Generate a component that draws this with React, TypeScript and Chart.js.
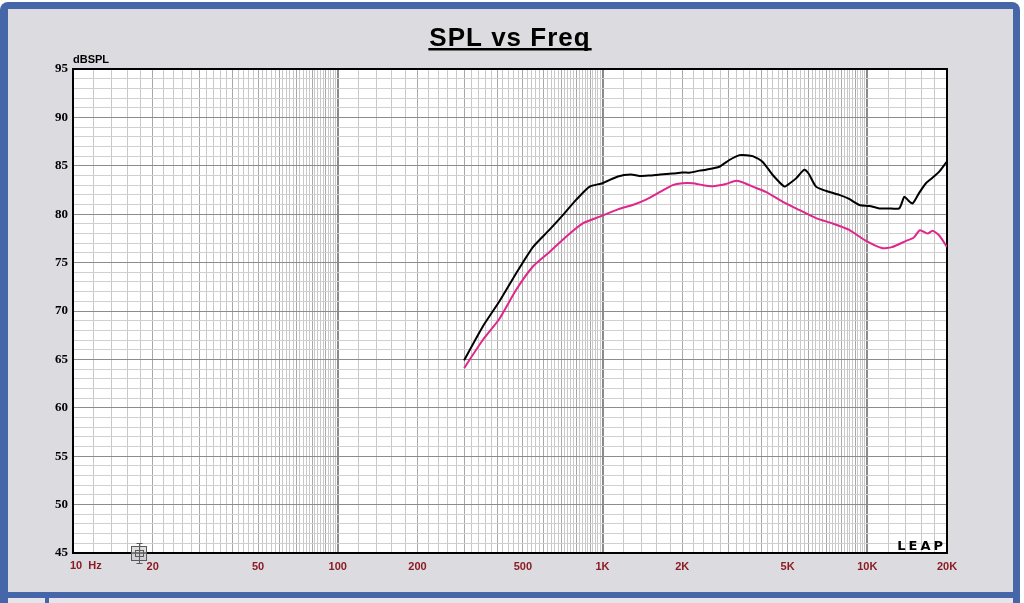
import React, { useEffect, useRef } from 'react';
import { Chart, registerables } from 'chart.js';

Chart.register(...registerables);

// black trace (upper)
const freqUpper = [300, 353, 408, 472, 546, 631, 708, 796, 894, 1000, 1143, 1280, 1380, 1500, 1650, 1841, 2000, 2150, 2323, 2460, 2763, 3013, 3289, 3500, 3690, 4027, 4394, 4865, 5100, 5383, 5785, 6000, 6400, 7000, 7838, 8500, 9330, 10180, 11100, 12000, 13200, 13800, 14300, 14830, 15700, 16650, 17500, 18700, 19800, 20000];
const splUpper = [64.9, 68.4, 71.0, 73.9, 76.6, 78.4, 79.9, 81.5, 82.85, 83.2, 83.9, 84.1, 83.95, 84.0, 84.1, 84.2, 84.3, 84.3, 84.5, 84.6, 84.9, 85.6, 86.1, 86.1, 86.0, 85.4, 84.05, 82.85, 83.2, 83.7, 84.6, 84.2, 82.85, 82.4, 82.0, 81.6, 80.95, 80.85, 80.6, 80.6, 80.6, 81.8, 81.4, 81.1, 82.2, 83.2, 83.7, 84.4, 85.3, 85.4];

// pink trace (lower)
const freqLower = [300, 353, 408, 472, 546, 631, 730, 842, 977, 1143, 1300, 1460, 1650, 1841, 2000, 2193, 2400, 2604, 2900, 3200, 3450, 3690, 4140, 4780, 5520, 6400, 7380, 8510, 9820, 11350, 12380, 13900, 15000, 15790, 16900, 17650, 18700, 19800, 20000];
const splLower = [64.1, 67.0, 69.2, 72.2, 74.6, 76.1, 77.7, 79.05, 79.75, 80.5, 80.95, 81.5, 82.3, 83.0, 83.2, 83.2, 83.0, 82.9, 83.1, 83.45, 83.2, 82.85, 82.3, 81.3, 80.45, 79.6, 79.05, 78.4, 77.3, 76.5, 76.6, 77.2, 77.6, 78.35, 78.0, 78.3, 77.8, 76.8, 76.6];

const xTickValues = [10, 20, 50, 100, 200, 500, 1000, 2000, 5000, 10000, 20000];
const xTickLabels = ['10  Hz', '20', '50', '100', '200', '500', '1K', '2K', '5K', '10K', '20K'];
const yTickValues = [45, 50, 55, 60, 65, 70, 75, 80, 85, 90, 95];

const titleText = 'SPL vs Freq';
const yUnitText = 'dBSPL';
const logoText = 'LEAP';

const BLUE = '#4566a8';
const PANEL = '#dcdbe0';
const SANS = 'Arial, "Liberation Sans", sans-serif';
const SERIF = '"Times New Roman", "Liberation Serif", serif';

// fine log grid: every 2 units per decade, like the LEAP sheet
const freqGrid = () => {
    const out: number[] = [];
    [10, 100, 1000].forEach(dec => {
        for (let m = 10; m < 100; m += 2) out.push((m * dec) / 10);
    });
    for (let v = 10000; v <= 20000; v += 2000) out.push(v);
    return out;
};

const mantissa = (v: number) => {
    const e = Math.pow(10, Math.floor(Math.log10(v) + 1e-9));
    return Math.round((v / e) * 10) / 10;
};

const framePlugin = {
    id: 'leapFrame',
    beforeDraw(chart: any) {
        const c = chart.ctx;
        const { width, height } = chart;
        const a = chart.chartArea;
        c.save();
        c.fillStyle = '#ffffff';
        c.fillRect(0, 0, width, height);
        c.fillStyle = BLUE;
        c.beginPath();
        c.roundRect(0, 2, 1020, height, [8, 8, 0, 0]);
        c.fill();
        c.fillStyle = PANEL;
        c.fillRect(8, 9, 1005, 583);
        c.fillStyle = '#e4e4ea';
        c.fillRect(8, 598, 1005, height - 598);
        c.fillStyle = BLUE;
        c.fillRect(45, 598, 4, height - 598);
        c.fillStyle = '#ffffff';
        c.fillRect(a.left, a.top, a.right - a.left, a.bottom - a.top);
        c.restore();
    },
    beforeDatasetsDraw(chart: any) {
        const c = chart.ctx;
        const a = chart.chartArea;
        c.save();
        c.strokeStyle = '#000000';
        c.lineWidth = 2;
        c.strokeRect(a.left, a.top, a.right - a.left, a.bottom - a.top);
        c.restore();
    },
    afterDraw(chart: any) {
        const c = chart.ctx;
        const a = chart.chartArea;
        const xs = chart.scales.x;
        const ys = chart.scales.y;
        c.save();

        // title, underlined
        c.font = `bold 26px ${SANS}`;
        (c as any).letterSpacing = '1px';
        c.fillStyle = '#000000';
        c.textAlign = 'center';
        c.textBaseline = 'alphabetic';
        const cx = (a.left + a.right) / 2;
        c.fillText(titleText, cx, 46);
        const w = c.measureText(titleText).width;
        c.fillRect(cx - w / 2 - 1, 48, w + 2, 2.5);
        (c as any).letterSpacing = '0px';

        // unit above the y axis
        c.font = `bold 11px ${SANS}`;
        c.textAlign = 'left';
        c.fillText(yUnitText, a.left, a.top - 6);

        // first x label sits to the right of its tick
        c.font = `bold 11px ${SANS}`;
        c.fillStyle = '#8b1c24';
        c.textBaseline = 'top';
        c.fillText(xTickLabels[0], xs.getPixelForValue(xTickValues[0]) - 3, a.bottom + 7);

        // LEAP mark
        c.font = `bold 13px "DejaVu Sans", ${SANS}`;
        (c as any).letterSpacing = '3px';
        c.fillStyle = '#000000';
        c.textAlign = 'right';
        c.textBaseline = 'alphabetic';
        c.fillText(logoText, a.right - 1, a.bottom - 3);
        (c as any).letterSpacing = '0px';

        // cursor marker on the bottom edge
        const mx = Math.round(xs.getPixelForValue(17.8)) + 0.5;
        const my = Math.round(ys.getPixelForValue(45)) + 0.5;
        c.strokeStyle = '#5a5a5a';
        c.lineWidth = 1;
        c.fillStyle = 'rgba(200,200,200,0.6)';
        c.fillRect(mx - 8, my - 7, 15, 14);
        c.strokeRect(mx - 8, my - 7, 15, 14);
        c.strokeRect(mx - 4, my - 3, 8, 6);
        c.beginPath();
        c.moveTo(mx, my - 10);
        c.lineTo(mx, my + 10);
        c.moveTo(mx - 3, my - 10);
        c.lineTo(mx + 3, my - 10);
        c.moveTo(mx - 3, my + 10);
        c.lineTo(mx + 3, my + 10);
        c.stroke();
        c.restore();
    },
};

const App: React.FC = () => {
    const chartRef = useRef<HTMLCanvasElement | null>(null);

    useEffect(() => {
        if (!chartRef.current) return;
        const ctx = chartRef.current.getContext('2d');
        if (!ctx) return;

        const labelFor = (v: number) => {
            const i = xTickValues.indexOf(v);
            return i > 0 ? xTickLabels[i] : '';
        };

        const chart = new Chart(ctx, {
            type: 'line',
            data: {
                datasets: [
                    {
                        label: 'upper',
                        data: freqUpper.map((f, i) => ({ x: f, y: splUpper[i] })),
                        borderColor: '#000000',
                        borderWidth: 2,
                        pointRadius: 0,
                        tension: 0.2,
                    },
                    {
                        label: 'lower',
                        data: freqLower.map((f, i) => ({ x: f, y: splLower[i] })),
                        borderColor: '#e0268a',
                        borderWidth: 2,
                        pointRadius: 0,
                        tension: 0.2,
                    },
                ],
            },
            options: {
                responsive: false,
                animation: false,
                events: [],
                layout: { padding: { top: 69, left: 0, right: 77, bottom: 0 } },
                plugins: {
                    legend: { display: false },
                    title: { display: false },
                    tooltip: { enabled: false },
                },
                scales: {
                    x: {
                        type: 'logarithmic',
                        min: 10,
                        max: 20000,
                        border: { display: false },
                        afterBuildTicks: (scale: any) => {
                            scale.ticks = freqGrid().map(v => ({ value: v }));
                        },
                        afterFit: (scale: any) => {
                            scale.height = 50;
                            scale.paddingLeft = 0;
                            scale.paddingRight = 0;
                        },
                        grid: {
                            drawTicks: false,
                            color: (c: any) => {
                                const m = mantissa(c.tick.value);
                                if (m === 1) return '#8a8a8a';
                                if (Number.isInteger(m)) return '#a8a8a8';
                                return '#c8c8c8';
                            },
                            lineWidth: (c: any) => (mantissa(c.tick.value) === 1 ? 2 : 1),
                        },
                        ticks: {
                            autoSkip: false,
                            maxRotation: 0,
                            padding: 7,
                            color: '#8b1c24',
                            font: { family: SANS, size: 11, weight: 'bold' },
                            callback: (v: any) => labelFor(Number(v)),
                        },
                    },
                    y: {
                        type: 'linear',
                        min: 45,
                        max: 95,
                        border: { display: false },
                        afterBuildTicks: (scale: any) => {
                            const t: { value: number }[] = [];
                            for (let v = 45; v <= 95; v += 1) t.push({ value: v });
                            scale.ticks = t;
                        },
                        afterFit: (scale: any) => {
                            scale.width = 73;
                            scale.paddingTop = 0;
                            scale.paddingBottom = 0;
                        },
                        grid: {
                            drawTicks: false,
                            color: (c: any) => (yTickValues.includes(c.tick.value) ? '#8c8c8c' : '#d0d0d0'),
                        },
                        ticks: {
                            autoSkip: false,
                            padding: 5,
                            color: '#000000',
                            font: { family: SERIF, size: 13, weight: 'bold' },
                            callback: (v: any) => (yTickValues.includes(Number(v)) ? String(v) : ''),
                        },
                    },
                },
            },
            plugins: [framePlugin],
        });

        return () => {
            chart.destroy();
        };
    }, []);

    return (
        <div style={{ position: 'absolute', left: 0, top: 0, width: 1024, height: 603 }}>
            <canvas ref={chartRef} width={1024} height={603} style={{ display: 'block' }}></canvas>
        </div>
    );
};

export default App;
